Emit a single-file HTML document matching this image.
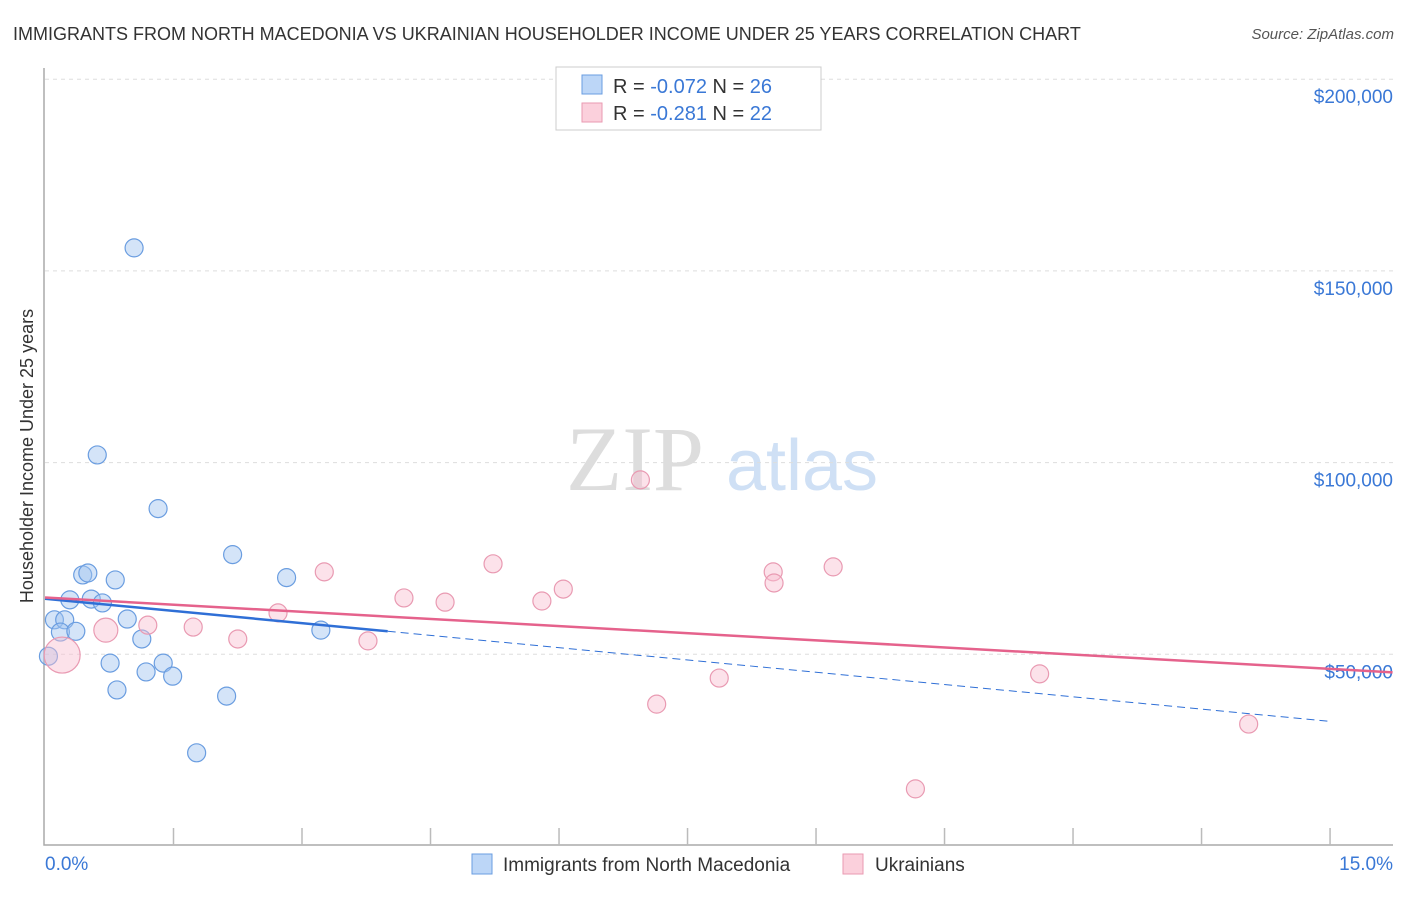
<!DOCTYPE html>
<html><head><meta charset="utf-8"><style>
body{margin:0;background:#fff;font-family:"Liberation Sans",sans-serif}
</style></head><body>
<svg id="chart" width="1406" height="892" xmlns="http://www.w3.org/2000/svg" font-family="Liberation Sans, sans-serif">
<text x="13" y="40" font-size="18" fill="#333">IMMIGRANTS FROM NORTH MACEDONIA VS UKRAINIAN HOUSEHOLDER INCOME UNDER 25 YEARS CORRELATION CHART</text>
<text x="1394" y="39" font-size="15" fill="#555" text-anchor="end" font-style="italic">Source: ZipAtlas.com</text>
<text transform="translate(33,456) rotate(-90)" font-size="18" fill="#333" text-anchor="middle">Householder Income Under 25 years</text>
<g><text x="635" y="490" font-size="92" fill="#ddd" text-anchor="middle" font-family="Liberation Serif, serif">ZIP</text><text x="802" y="490" font-size="72" fill="#cfe0f5" text-anchor="middle">atlas</text></g>
<g id="grid"></g><g id="axes"></g><g id="marks"></g>
<g>
<rect x="556" y="67" width="265" height="63" fill="#fff" stroke="#ccc"/>
<rect x="582" y="75" width="20" height="19" fill="#bcd6f7" stroke="#6a9de0"/>
<rect x="582" y="103" width="20" height="19" fill="#fbd0dc" stroke="#e99ab2"/>
<text x="613" y="93" font-size="20" fill="#333">R = <tspan fill="#3a78d6">-0.072</tspan>   N = <tspan fill="#3a78d6">26</tspan></text>
<text x="613" y="120" font-size="20" fill="#333">R =  <tspan fill="#3a78d6">-0.281</tspan>   N = <tspan fill="#3a78d6">22</tspan></text>
</g>
<g>
<rect x="472" y="854" width="20" height="20" fill="#bcd6f7" stroke="#6a9de0"/>
<text x="503" y="871" font-size="19" fill="#333">Immigrants from North Macedonia</text>
<rect x="843" y="854" width="20" height="20" fill="#fbd0dc" stroke="#e99ab2"/>
<text x="875" y="871" font-size="19" fill="#333">Ukrainians</text>
</g>
</svg>
<script>
const yTicks=[50000,100000,150000,200000];
const yTickLabels=["$50,000","$100,000","$150,000","$200,000"];
const blueX=[1.04,0.61,1.32,2.19,2.82,0.44,0.50,0.82,0.29,0.54,0.67,0.11,0.23,0.96,0.18,0.36,1.13,3.22,0.04,0.76,1.38,1.18,1.49,0.84,2.12,1.77];
const blueY=[156000,102000,88000,76000,70000,70700,71200,69400,64200,64400,63400,59000,59000,59200,55800,56000,54000,56300,49500,47700,47700,45400,44300,40700,39100,24300];
const pinkX=[6.95,5.23,3.26,8.50,9.20,8.51,6.05,4.19,4.67,5.80,2.72,1.20,1.73,0.71,2.25,3.77,0.20,7.87,7.14,11.61,14.05,10.16];
const pinkY=[95500,73600,71500,71500,72800,68600,67000,64700,63600,63900,60800,57600,57100,56300,54000,53500,49800,43800,37000,44900,31800,14900];
const pinkR=[9,9,9,9,9,9,9,9,9,9,9,9,9,12,9,9,18,9,9,9,9,9];
const blueTrend=[[0,64500],[4,56000],[15,32500]];
const pinkTrend=[[0,64800],[15.73,45300]];
const NS="http://www.w3.org/2000/svg";
const X=v=>45+v*85.67, Y=v=>846-v/50000*191.7;
function mk(t,a,p){const e=document.createElementNS(NS,t);for(const k in a)e.setAttribute(k,a[k]);document.getElementById(p).appendChild(e);return e;}
yTicks.forEach((t,i)=>{
 const g=mk('line',{x1:45,x2:1393,y1:Y(t),y2:Y(t),stroke:'#ddd','stroke-dasharray':'4,4'},'grid');
 
 
 const l=mk('text',{x:1393,y:Y(t)+24,'font-size':19,fill:'#3a78d6','text-anchor':'end'},'axes');
 l.textContent=yTickLabels[i];
 
 
});
const ax=mk('path',{d:'M44,68V845H1393',fill:'none',stroke:'#aaa','stroke-width':1.5},'axes');


for(let i=1;i<=10;i++){const t=mk('line',{x1:X(i*1.5),x2:X(i*1.5),y1:828,y2:845,stroke:'#bbb','stroke-width':1.5},'axes');
 
 }
[["0.0%",45,'start'],["15.0%",1393,'end']].forEach(a=>{const t=mk('text',{x:a[1],y:870,'font-size':19,fill:'#3a78d6','text-anchor':a[2]},'axes');t.textContent=a[0];
 
 });
blueX.forEach((v,i)=>{const c=mk('circle',{cx:X(v),cy:Y(blueY[i]),r:9,fill:'rgba(160,196,240,0.45)',stroke:'#6a9de0','stroke-width':1.2},'marks');
 
 });
pinkX.forEach((v,i)=>{const c=mk('circle',{cx:X(v),cy:Y(pinkY[i]),r:pinkR[i],fill:'rgba(248,190,208,0.45)',stroke:'#e99ab2','stroke-width':1.2},'marks');
 
 });
let b=mk('line',{x1:X(blueTrend[0][0]),y1:Y(blueTrend[0][1]),x2:X(blueTrend[1][0]),y2:Y(blueTrend[1][1]),stroke:'#2f6fd6','stroke-width':2.5},'marks');


b=mk('line',{x1:X(blueTrend[1][0]),y1:Y(blueTrend[1][1]),x2:X(blueTrend[2][0]),y2:Y(blueTrend[2][1]),stroke:'#2f6fd6','stroke-width':1,'stroke-dasharray':'8,5'},'marks');


const p=mk('line',{x1:X(pinkTrend[0][0]),y1:Y(pinkTrend[0][1]),x2:X(pinkTrend[1][0]),y2:Y(pinkTrend[1][1]),stroke:'#e5628c','stroke-width':2.5},'marks');


</script>
</body></html>
